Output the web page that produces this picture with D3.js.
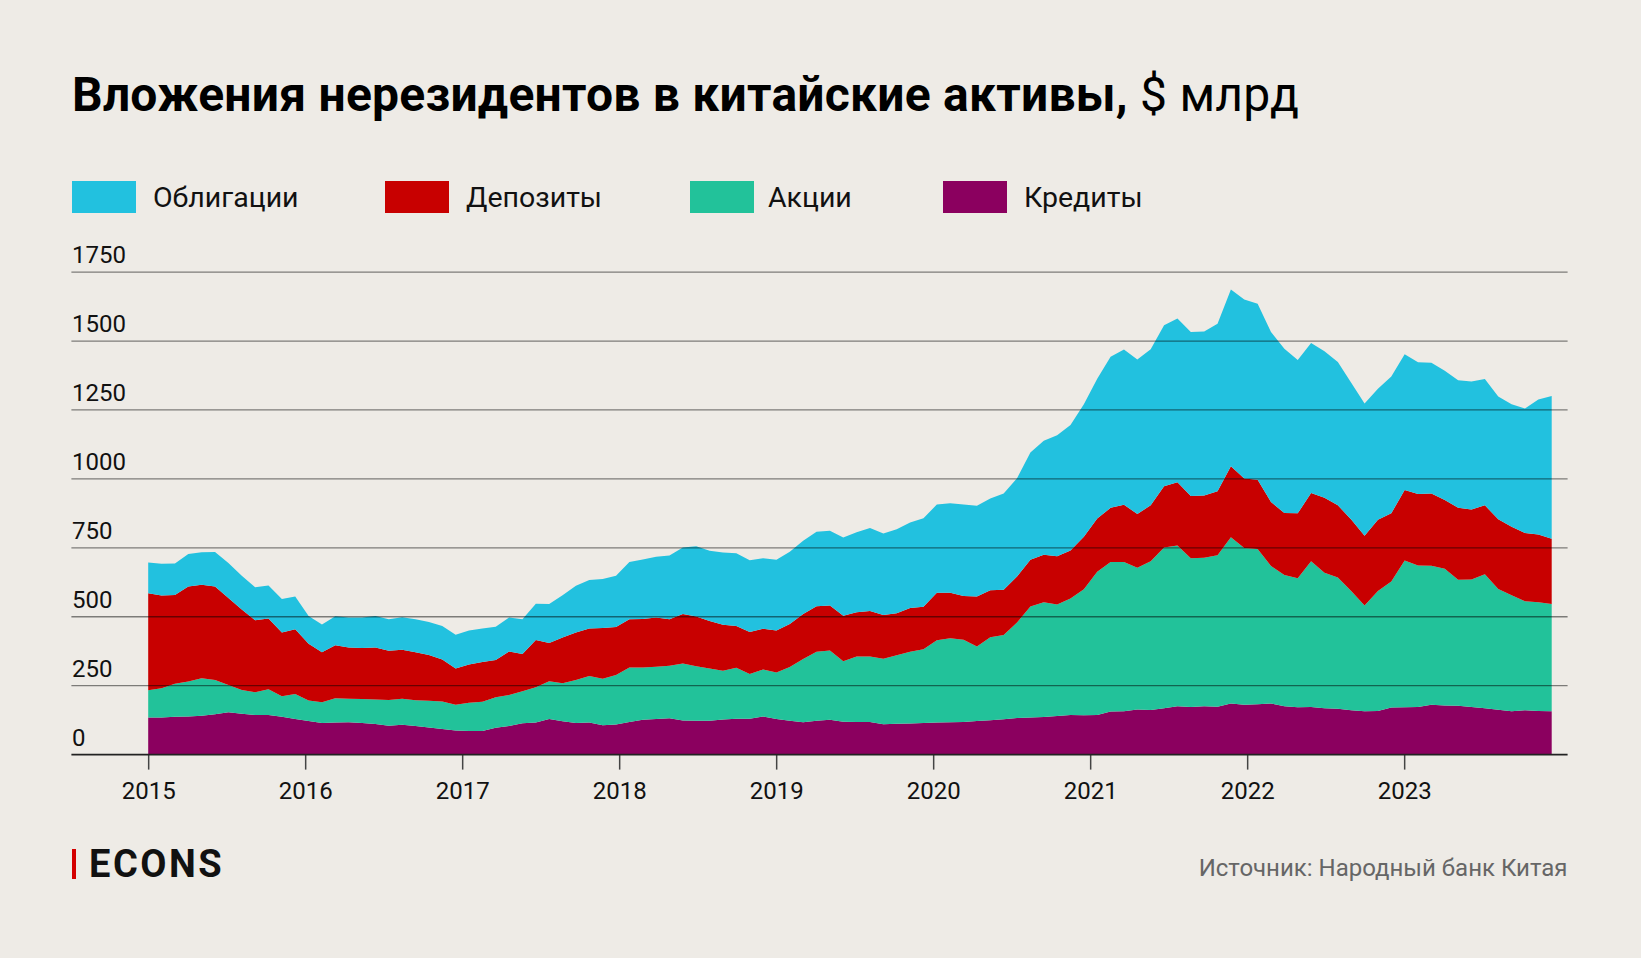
<!DOCTYPE html>
<html><head><meta charset="utf-8">
<script src="https://cdn.jsdelivr.net/npm/d3@7"></script>
<style>
html,body{margin:0;padding:0;background:#EEEBE6;}
svg{display:block;font-family:Roboto,"Noto Sans",sans-serif;}
</style></head>
<body>
<svg id="chart" width="1641" height="958"></svg>
<script>
// ---- data (monthly, Jan 2015 – Oct 2023), $ bn ----
const months = d3.timeMonth.range(new Date(2015,0,1), new Date(2023,10,1)).map(d3.timeFormat("%Y-%m"));
const credits = [135,135,137,138,141,146,154,148,144,144,
137,129,122,115,116,117,115,111,105,108,
104,98,93,87,86,86,97,104,114,116,
129,121,115,116,106,109,118,126,129,132,
124,123,123,127,130,130,138,129,123,117,
123,126,119,118,118,110,112,113,115,116,
117,118,122,125,128,133,135,136,140,144,
143,144,156,157,164,162,168,175,173,175,
174,185,181,183,185,175,172,173,168,166,
161,157,158,171,172,173,181,178,177,173,
168,163,157,161,158,157];
const stocks = [98,106,120,127,136,125,98,86,82,93,
75,91,74,75,88,86,87,89,93,95,
93,97,100,94,102,106,111,112,116,128,
137,138,156,169,169,180,198,190,190,190,
206,197,189,177,185,162,171,169,195,230,
250,252,220,238,238,238,248,260,267,299,
305,299,270,301,306,346,402,417,404,422,
457,519,543,542,514,539,583,583,539,539,
549,603,568,563,499,476,468,528,492,476,
432,384,435,457,532,513,504,496,457,462,
486,438,421,395,395,389];
const deposits = [352,336,322,345,339,339,316,292,261,257,
231,235,206,181,193,185,185,188,179,177,
174,166,152,131,139,144,135,158,135,172,
139,166,172,172,184,174,175,176,178,169,
180,181,173,167,151,153,147,152,156,163,
165,163,165,160,165,158,153,159,154,172,
165,158,181,170,164,167,170,172,175,174,
190,193,196,207,195,203,222,230,226,226,
232,258,252,251,232,225,235,248,272,262,
260,253,259,247,256,259,262,249,261,254,
250,253,248,248,245,237];
const bonds = [112,115,114,118,118,125,127,123,120,119,
121,118,101,101,105,109,110,115,114,118,
120,120,121,123,123,121,121,123,126,131,
141,153,169,176,178,186,208,216,221,231,
241,255,254,262,264,260,256,257,262,266,
270,271,283,290,301,296,304,310,321,320,
325,332,330,333,349,356,389,413,439,455,
481,507,548,563,560,566,584,594,595,595,
608,641,650,638,617,596,556,544,531,520,
496,479,475,496,492,478,474,469,463,464,
458,445,445,451,490,518];
const seriesKeys = ["credits","stocks","deposits","bonds"];
const seriesNames = {bonds:"Облигации", deposits:"Депозиты", stocks:"Акции", credits:"Кредиты"};
const legendOrder = ["bonds","deposits","stocks","credits"];
const colors = {bonds:"#22C1DF", deposits:"#C80000", stocks:"#22C29A", credits:"#8B005F"};
const yTicks = [0,250,500,750,1000,1250,1500,1750];
const yearTicks = [2015,2016,2017,2018,2019,2020,2021,2022,2023];

// ---- build ----
const rows = months.map((m,i)=>({month:m, credits:credits[i], stocks:stocks[i], deposits:deposits[i], bonds:bonds[i]}));
const svg = d3.select("#chart");
svg.append("rect").attr("width",1641).attr("height",958).attr("fill","#EEEBE6");

const x = d3.scalePoint().domain(months).range([148.2, 1551.7]);
const xYear = d3.scaleLinear().domain([2014.511, 2024.041]).range([71.4, 1567.6]);
const y = d3.scaleLinear().domain([0,1750]).range([754.6, 272.1]);

// title
const title = svg.append("text").attr("x",72).attr("y",111).attr("font-size",48).attr("letter-spacing",0.25).attr("fill","#000");
title.append("tspan").attr("font-weight",700).text("Вложения нерезидентов в китайские активы,");
title.append("tspan").attr("font-weight",400).text(" $ млрд");

// legend
const legendX = {bonds:[72,153], deposits:[385,466], stocks:[690,768], credits:[943,1024]};
const lg = svg.append("g");
legendOrder.forEach(k=>{
  lg.append("rect").attr("x",legendX[k][0]).attr("y",181).attr("width",64).attr("height",32).attr("fill",colors[k]);
  lg.append("text").attr("x",legendX[k][1]).attr("y",207).attr("font-size",28.5).attr("fill","#111").text(seriesNames[k]);
});

// areas
const stack = d3.stack().keys(seriesKeys);
const layers = stack(rows);
const area = d3.area().x(d=>x(d.data.month)).y0(d=>y(d[0])).y1(d=>y(d[1]));
svg.append("g").selectAll("path").data(layers).join("path")
  .attr("d",area).attr("fill",d=>colors[d.key]);

// gridlines
const grid = svg.append("g");
yTicks.filter(v=>v>0).forEach(v=>{
  grid.append("line").attr("x1",71.4).attr("x2",1567.6).attr("y1",y(v)).attr("y2",y(v))
    .attr("stroke","#000").attr("stroke-opacity",0.48).attr("stroke-width",1.3);
});
// y labels
yTicks.forEach(v=>{
  svg.append("text").attr("x",72).attr("y",y(v)-9).attr("font-size",24).attr("fill","#111").text(v);
});

// x axis
const xAxis = d3.axisBottom(xYear).tickValues(yearTicks).tickFormat(d3.format("d")).tickSize(15).tickPadding(12);
const gx = svg.append("g").attr("transform",`translate(0,${y(0)})`).call(xAxis);
gx.select(".domain").remove();
gx.selectAll(".tick line").attr("stroke","#444").attr("stroke-width",1.5);
gx.selectAll(".tick text").attr("font-size",24).attr("fill","#111").attr("font-family","Roboto,'Noto Sans',sans-serif");
svg.append("line").attr("x1",71.4).attr("x2",1567.6).attr("y1",y(0)).attr("y2",y(0)).attr("stroke","#222").attr("stroke-width",1.6);

// footer
svg.append("rect").attr("x",72).attr("y",849).attr("width",4).attr("height",30).attr("fill","#D40000");
svg.append("text").attr("x",89).attr("y",877).attr("font-size",38).attr("font-weight",700).attr("fill","#111").attr("letter-spacing",2.5).text("ECONS");
svg.append("text").attr("x",1567.5).attr("y",876).attr("text-anchor","end").attr("font-size",24).attr("fill","#666").text("Источник: Народный банк Китая");
</script>
</body></html>
